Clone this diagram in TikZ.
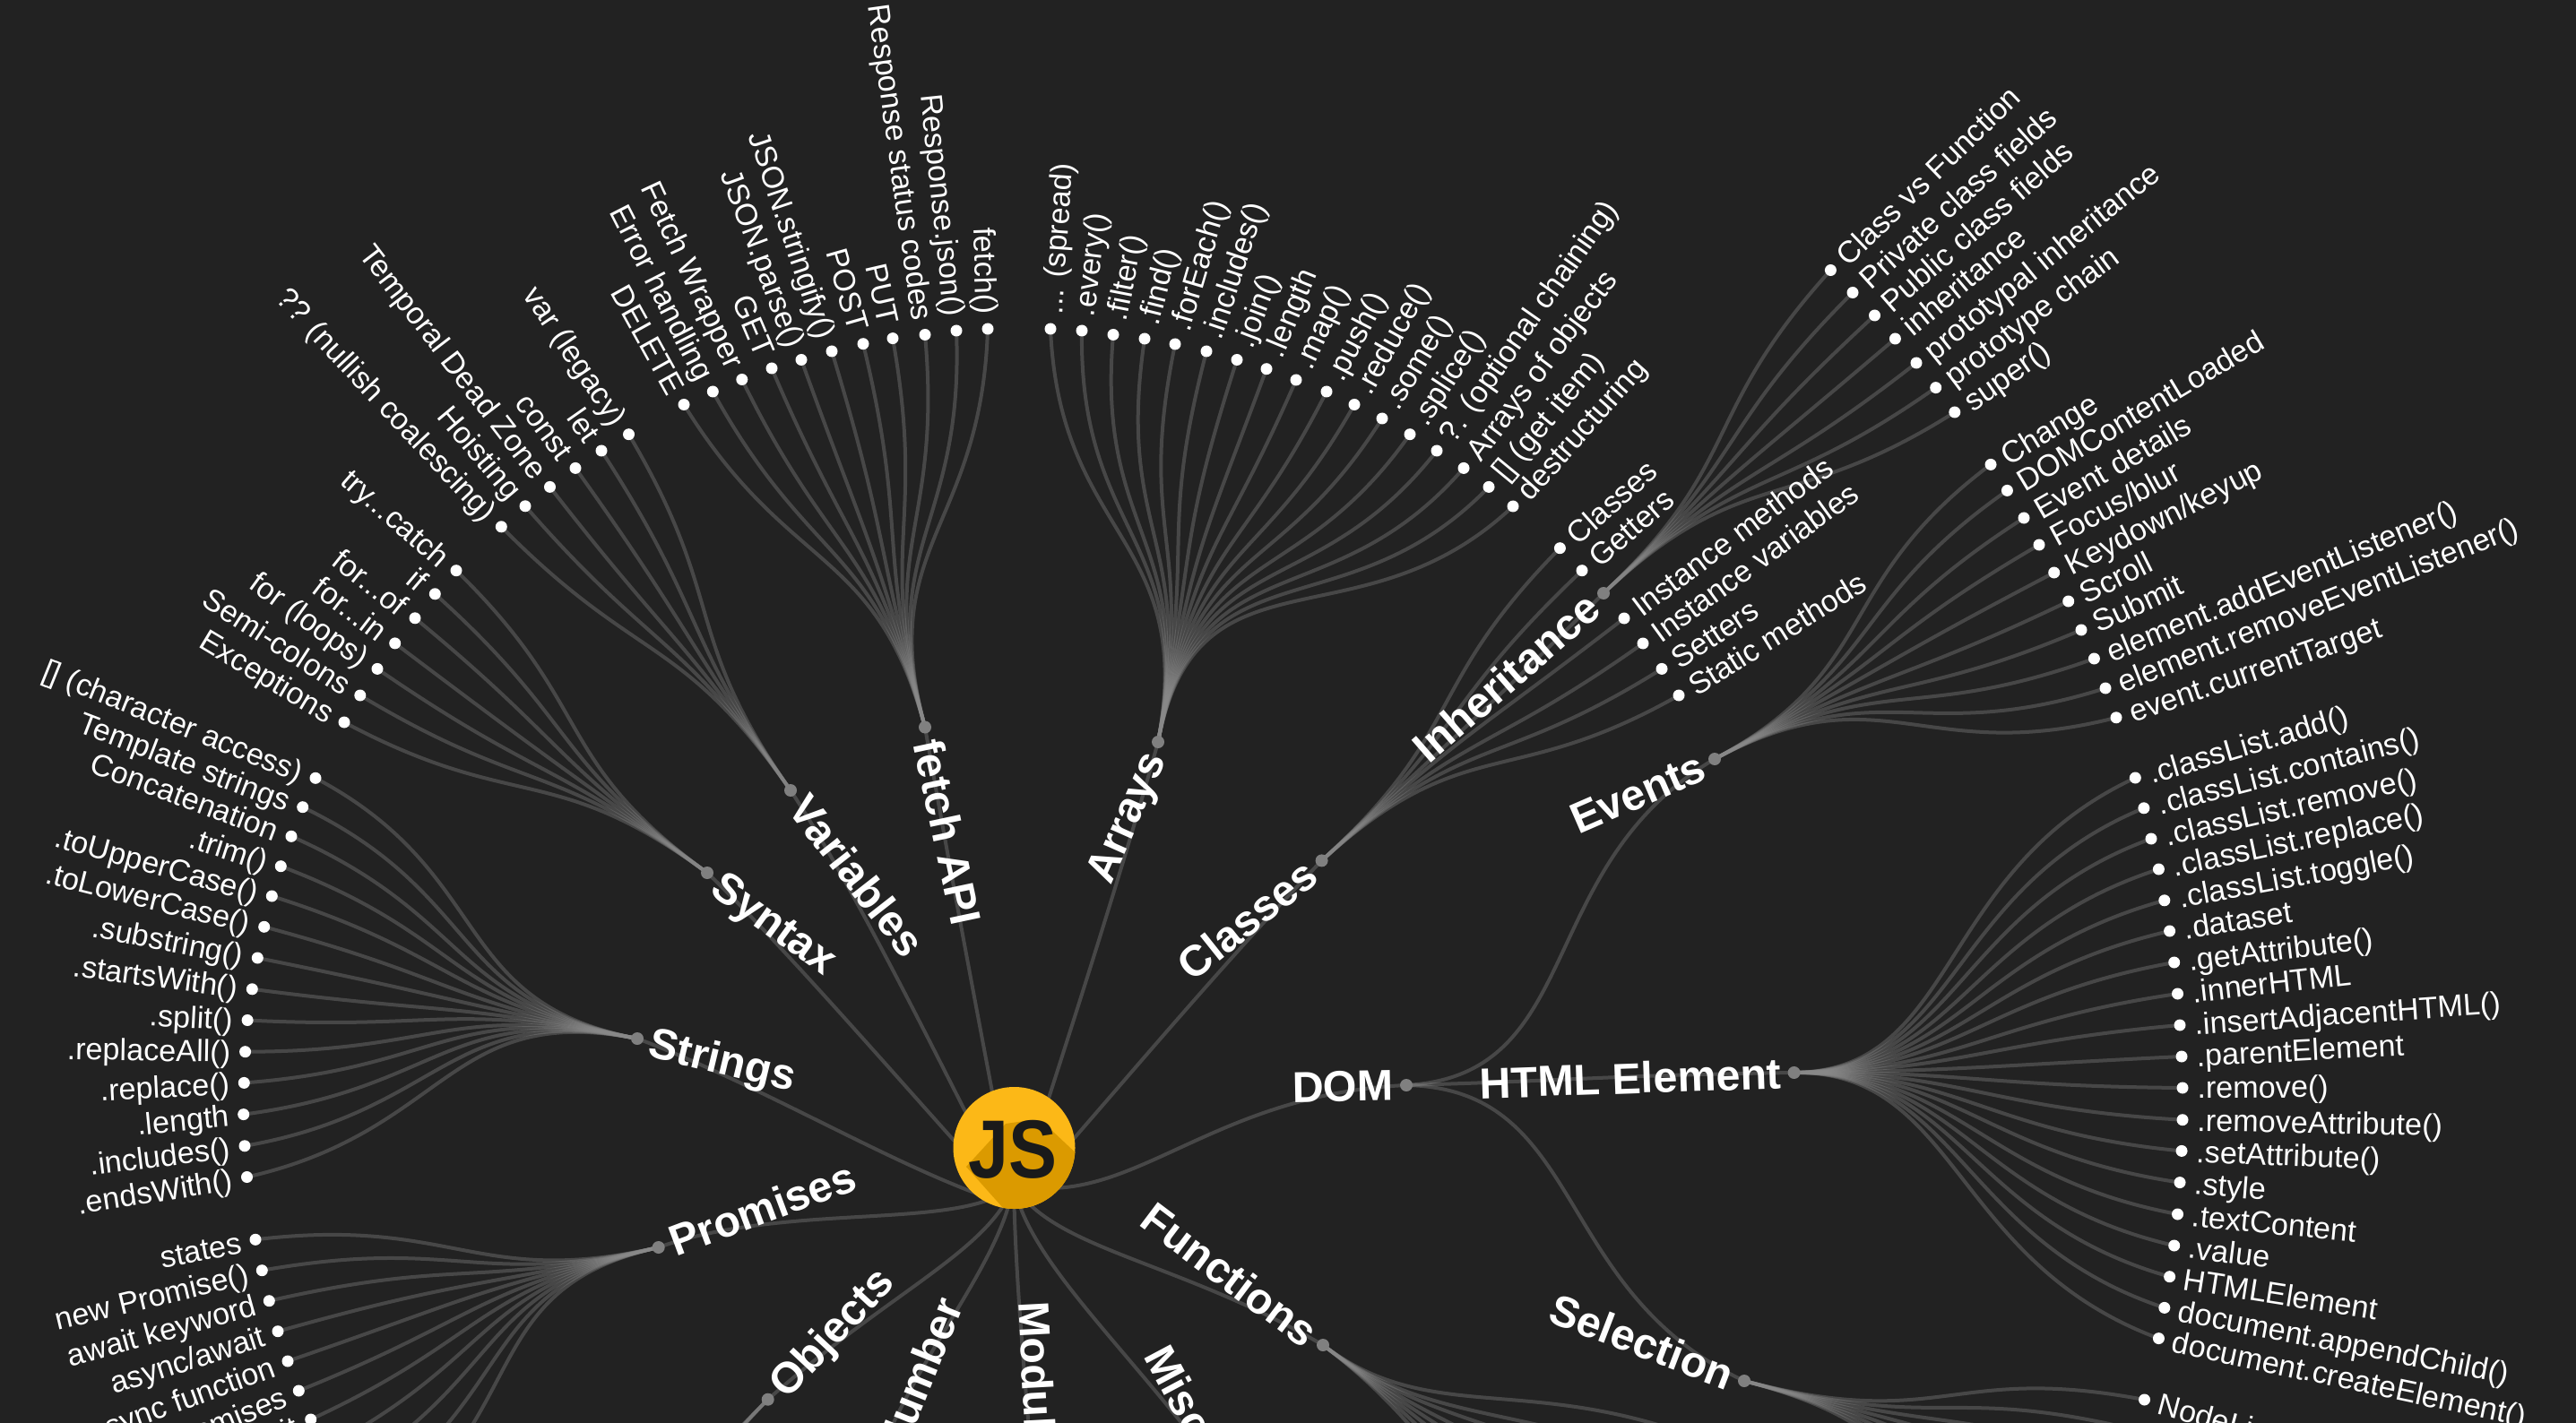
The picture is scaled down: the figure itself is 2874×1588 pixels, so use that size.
\documentclass[tikz,border=0pt]{standalone}
\usepackage{fontspec}
\setmainfont{Liberation Sans}
\usetikzlibrary{calc}
\pgfdeclarelayer{links}
\pgfsetlayers{links,main}
\definecolor{bgc}{HTML}{222222}
\definecolor{jsy}{HTML}{FCB817}
\definecolor{jsd}{HTML}{DB9A00}
\definecolor{jsk}{HTML}{1A1A1A}
\definecolor{hubc}{HTML}{808080}
\definecolor{linkc}{HTML}{8A8A8A}
\tikzset{
 link/.style={draw=linkc,draw opacity=.36,line width=2pt},
 leafdot/.style={circle,fill=white,minimum size=6.5pt,inner sep=0pt},
 hubdot/.style={circle,fill=hubc,minimum size=7pt,inner sep=0pt},
 leaftext/.style={text=white,font=\fontsize{17.1}{18}\selectfont,inner ysep=0pt,inner xsep=8pt,text height=12pt,text depth=0pt},
 boldtext/.style={text=white,font=\fontsize{24.2}{25}\selectfont\bfseries,inner ysep=0pt,inner xsep=7pt,text height=17pt,text depth=0pt},
}
\newcount\leafno
\newcommand{\mmgrp}[2]{\def\curhub{#1}\def\curc{#2}}
\newcommand{\mmfan}[2]{%
 \begin{pgfonlayer}{links}
 \draw[link] let \p1=(\curhub.center),\p2=(#1.center),\n1={veclen(\x1-\x2,\y1-\y2)} in
  (\curhub.center) .. controls (\curc) and ({\x2+0.325*\n1*cos(#2)+0.175*(\x1-\x2)},{\y2+0.325*\n1*sin(#2)+0.175*(\y1-\y2)}) .. (#1.center);
 \end{pgfonlayer}}
\newcommand{\mmL}[4]{%
 \global\advance\leafno by 1
 \node[leafdot] (L\the\leafno) at (#1,#2) {};
 \node[leaftext,anchor=east,rotate=#3] (T\the\leafno) at (L\the\leafno.center) {#4};
 \mmfan{L\the\leafno}{#3}}
\newcommand{\mmR}[4]{%
 \global\advance\leafno by 1
 \node[leafdot] (L\the\leafno) at (#1,#2) {};
 \node[leaftext,anchor=west,rotate=#3] (T\the\leafno) at (L\the\leafno.center) {#4};
 \mmfan{L\the\leafno}{#3+180}}
\newcommand{\mmO}[3]{%
 \global\advance\leafno by 1
 \coordinate (L\the\leafno) at (#1,#2);
 \mmfan{L\the\leafno}{#3}}
\newcommand{\mmroot}[4]{%
 \begin{pgfonlayer}{links}
 \draw[link] (#1) .. controls (#2) and (#3) .. (#4);
 \end{pgfonlayer}}
\begin{document}
\begin{tikzpicture}[x=0.5pt,y=-0.5pt]
\useasboundingbox (0,0) rectangle (2874,1588);
\begin{pgfonlayer}{links}
\fill[bgc] (0,0) rectangle (2874,1588);
\end{pgfonlayer}
% root
\coordinate (O) at (1131,1346);
\coordinate (Ob) at (1131,1322);
\coordinate (Od) at (1170,1326);
% logo
\node[circle,fill=jsy,minimum size=68pt,inner sep=0pt] (js) at (1131.5,1281) {};
\begin{scope}
\clip (1131.5,1281) circle (34pt);
\fill[jsd] (1078,1302) -- (1128,1358) -- (1225,1358) -- (1225,1310) -- (1174,1262) -- (1150,1250) -- (1122,1254) -- cycle;
\end{scope}
\node[text=jsk,inner sep=0pt,font=\fontsize{46}{46}\selectfont\bfseries] (jstext) at (1130,1283) {\scalebox{.88}[1]{JS}};
% hubs
\node[hubdot] (hVar) at (882,882) {};
\node[hubdot] (hSyn) at (789,974) {};
\node[hubdot] (hStr) at (711,1159) {};
\node[hubdot] (hPro) at (734.7,1392) {};
\node[hubdot] (hObj) at (856.7,1561.7) {};
\node[hubdot] (hFet) at (1032,811.5) {};
\node[hubdot] (hArr) at (1292,828) {};
\node[hubdot] (hCla) at (1474.6,960.4) {};
\node[hubdot] (hInh) at (1789,662) {};
\node[hubdot] (hEve) at (1913,847) {};
\node[hubdot] (hDom) at (1569,1211) {};
\node[hubdot] (hHtm) at (2001.6,1197) {};
\node[hubdot] (hSel) at (1946,1541) {};
\node[hubdot] (hFun) at (1476,1501) {};
\coordinate (hNum) at (950,1720);
\coordinate (hMod) at (1160,1750);
\coordinate (hMis) at (1400,1700);
% bold labels
\node[boldtext,anchor=west,rotate=-52] (bVar) at (hVar.center) {Variables};
\node[boldtext,anchor=west,rotate=-36] (bSyn) at (hSyn.center) {Syntax};
\node[boldtext,anchor=west,rotate=-13.5] (bStr) at (hStr.center) {Strings};
\node[boldtext,anchor=west,rotate=20.5] (bPro) at (hPro.center) {Promises};
\node[boldtext,anchor=west,rotate=47] (bObj) at (hObj.center) {Objects};
\node[boldtext,anchor=west,rotate=-78] (bFet) at (hFet.center) {fetch API};
\node[boldtext,anchor=east,rotate=66] (bArr) at (hArr.center) {Arrays};
\node[boldtext,anchor=east,rotate=38.5] (bCla) at (hCla.center) {Classes};
\node[boldtext,anchor=east,rotate=41] (bInh) at (hInh.center) {Inheritance};
\node[boldtext,anchor=east,rotate=23.5] (bEve) at (hEve.center) {Events};
\node[boldtext,anchor=east,rotate=1] (bDom) at (hDom.center) {DOM};
\node[boldtext,anchor=east,rotate=2] (bHtm) at (hHtm.center) {HTML Element};
\node[boldtext,anchor=east,rotate=-21] (bSel) at (hSel.center) {Selection};
\node[boldtext,anchor=east,rotate=-37] (bFun) at (hFun.center) {Functions};
\coordinate (aNum) at (1060,1450);
\coordinate (aMod) at (1153,1452);
\coordinate (aMis) at (1290,1505);
\node[boldtext,anchor=east,rotate=68,inner xsep=0pt] (bNum) at (aNum) {Number};
\node[boldtext,anchor=west,rotate=-87,inner xsep=0pt] (bMod) at (aMod) {Modules};
\node[boldtext,anchor=west,rotate=-62,inner xsep=0pt] (bMis) at (aMis) {Miscellaneous};
% root links
\mmroot{O}{1070,1230}{960,1000}{hVar.center}
\mmroot{O}{1050,1260}{880,1060}{hSyn.center}
\mmroot{O}{1010,1310}{860,1215}{hStr.center}
\mmroot{Ob}{1080,1375}{880,1340}{hPro.center}
\mmroot{Ob}{1105,1395}{995,1440}{hObj.center}
\mmroot{Ob}{1112,1430}{990,1540}{hNum}
\mmroot{Ob}{1133,1450}{1150,1600}{hMod}
\mmroot{Ob}{1150,1420}{1290,1530}{hMis}
\mmroot{Ob}{1175,1395}{1313,1406}{hFun.center}
\mmroot{Od}{1280,1326}{1370,1220}{hDom.center}
\mmroot{O}{1200,1272}{1345,1095}{hCla.center}
\mmroot{O}{1175,1210}{1250,980}{hArr.center}
\mmroot{O}{1100,1180}{1065,1000}{hFet.center}
\mmroot{hDom.center}{1770,1200}{1709,967}{hEve.center}
\mmroot{hDom.center}{1780,1205}{1790,1200}{hHtm.center}
\mmroot{hDom.center}{1770,1215}{1730,1440}{hSel.center}
\mmroot{hCla.center}{1630,815}{1640,810}{hInh.center}
% Variables
\coordinate (cVar) at (759,706);
\mmgrp{hVar}{cVar}
\mmL{701.5}{484.7}{-56}{var (legacy)}
\mmL{671}{503}{-55}{let}
\mmL{642}{522.4}{-53.5}{const}
\mmL{613.5}{543.4}{-52.5}{Temporal Dead Zone}
\mmL{586}{564.8}{-50}{Hoisting}
\mmL{559.3}{587.8}{-47}{?? (nullish coalescing)}
% Syntax
\coordinate (cSyn) at (615,847);
\mmgrp{hSyn}{cSyn}
\mmL{509}{636.7}{-41}{try...catch}
\mmL{485.3}{662.8}{-40}{if}
\mmL{463}{689.8}{-38.7}{for...of}
\mmL{440.7}{717.9}{-37.5}{for...in}
\mmL{421}{746.4}{-36}{for (loops)}
\mmL{401.8}{776}{-33}{Semi-colons}
\mmL{384}{806}{-31}{Exceptions}
% Strings
\coordinate (cStr) at (500,1118);
\mmgrp{hStr}{cStr}
\mmL{352}{868.3}{-22}{[] (character access)}
\mmL{337.7}{900.7}{-21}{Template strings}
\mmL{325}{933.3}{-20.5}{Concatenation}
\mmL{313.3}{966.7}{-18}{.trim()}
\mmL{303.3}{1000}{-15.5}{.toUpperCase()}
\mmL{294.7}{1034.3}{-14}{.toLowerCase()}
\mmL{287.3}{1069}{-11}{.substring()}
\mmL{281.3}{1103.8}{-7.5}{.startsWith()}
\mmL{276.1}{1138.5}{-3}{.split()}
\mmL{273.6}{1173.7}{-1}{.replaceAll()}
\mmL{272.3}{1208.4}{3}{.replace()}
\mmL{271.7}{1243.6}{5.5}{.length}
\mmL{273}{1278.8}{7}{.includes()}
\mmL{275.5}{1313.5}{9}{.endsWith()}
% Promises
\coordinate (cPro) at (530,1438);
\mmgrp{hPro}{cPro}
\mmL{285}{1383.3}{11}{states}
\mmL{292.3}{1417.7}{13.5}{new Promise()}
\mmL{300.3}{1451.7}{15.5}{await keyword}
\mmL{310}{1485.7}{17.5}{async/await}
\mmL{321}{1519}{20}{async function}
\mmL{333.3}{1552}{22}{Chaining promises}
\mmL{346.7}{1584}{24}{Top-level await}
\mmO{362}{1616}{26}
\mmO{379}{1648}{28}
\mmO{398}{1679}{30}
\mmO{418}{1709}{32}
% Objects
\coordinate (cObj) at (710,1710);
\mmgrp{hObj}{cObj}
\mmO{560}{1780}{25}
\mmO{590}{1830}{30}
\mmO{630}{1870}{35}
\mmO{670}{1900}{40}
% fetch
\coordinate (cFet) at (977,608);
\mmgrp{hFet}{cFet}
\mmL{763}{451.5}{-61}{DELETE}
\mmL{795.3}{437}{-63}{Error handling}
\mmL{827.8}{423.5}{-65}{Fetch Wrapper}
\mmL{861}{411}{-67}{GET}
\mmL{894}{401.5}{-69.5}{JSON.parse()}
\mmL{928}{392}{-71.5}{JSON.stringify()}
\mmL{963}{383.7}{-74}{POST}
\mmL{996}{377.6}{-77}{PUT}
\mmL{1032}{373.5}{-82}{Response status codes}
\mmL{1067}{369}{-84}{Response.json()}
\mmL{1102}{367}{-88}{fetch()}
% Arrays
\coordinate (cArr) at (1335,600);
\mmgrp{hArr}{cArr}
\mmR{1172}{367}{86}{... (spread)}
\mmR{1207}{369}{83}{.every()}
\mmR{1242}{373.5}{79}{.filter()}
\mmR{1277}{378}{76}{.find()}
\mmR{1311}{384}{73.5}{.forEach()}
\mmR{1346}{392}{71.5}{.includes()}
\mmR{1380}{401.5}{69}{.join()}
\mmR{1413}{411.7}{67.5}{.length}
\mmR{1446}{424}{65}{.map()}
\mmR{1480}{437}{62.5}{.push()}
\mmR{1511}{451.5}{61}{.reduce()}
\mmR{1542}{467}{59}{.some()}
\mmR{1573}{484.7}{57}{.splice()}
\mmR{1603}{503}{55}{?. (optional chaining)}
\mmR{1633}{522.4}{53}{Arrays of objects}
\mmR{1661}{543.4}{50.5}{[] (get item)}
\mmR{1688}{565}{48.5}{destructuring}
% Classes
\coordinate (cCla) at (1636,814);
\mmgrp{hCla}{cCla}
\mmR{1740.4}{611.7}{41.5}{Classes}
\mmR{1765}{636.7}{41}{Getters}
\mmR{1812}{690}{37}{Instance methods}
\mmR{1833}{718}{36}{Instance variables}
\mmR{1854}{746.4}{33.5}{Setters}
\mmR{1873}{776}{32}{Static methods}
% Inheritance
\coordinate (cInh) at (1946,515);
\mmgrp{hInh}{cInh}
\mmR{2042.4}{301.5}{44}{Class vs Function}
\mmR{2067}{326.5}{42}{Private class fields}
\mmR{2091.5}{352}{41}{Public class fields}
\mmR{2114.4}{378}{40}{inheritance}
\mmR{2138}{405}{39}{prototypal inheritance}
\mmR{2159.7}{432.6}{37}{prototype chain}
\mmR{2180.8}{460}{35}{super()}
% Events
\coordinate (cEve) at (2100,747);
\mmgrp{hEve}{cEve}
\mmR{2221}{518.4}{31.5}{Change}
\mmR{2239.4}{547.4}{31}{DOMContentLoaded}
\mmR{2258}{578}{30}{Event details}
\mmR{2275}{608}{28.5}{Focus/blur}
\mmR{2291.7}{639}{27}{Keydown/keyup}
\mmR{2307.7}{671}{26.5}{Scroll}
\mmR{2322}{703}{25}{Submit}
\mmR{2336.4}{735}{22.5}{element.addEventListener()}
\mmR{2349}{768}{21.5}{element.removeEventListener()}
\mmR{2361}{800.8}{19}{event.currentTarget}
% HTML Element
\coordinate (cHtm) at (2185,1195);
\mmgrp{hHtm}{cHtm}
\mmR{2382.3}{868}{16.5}{.classList.add()}
\mmR{2391.9}{901.8}{14.5}{.classList.contains()}
\mmR{2400}{936}{13}{.classList.remove()}
\mmR{2408.4}{970}{12}{.classList.replace()}
\mmR{2414.8}{1004.8}{10.5}{.classList.toggle()}
\mmR{2420.6}{1039}{9}{.dataset}
\mmR{2425.7}{1074}{7}{.getAttribute()}
\mmR{2429.5}{1109}{6.5}{.innerHTML}
\mmR{2432}{1144}{4}{.insertAdjacentHTML()}
\mmR{2434}{1179}{3}{.parentElement}
\mmR{2435}{1214}{.5}{.remove()}
\mmR{2435}{1249.7}{-1.2}{.removeAttribute()}
\mmR{2434}{1284.4}{-2.2}{.setAttribute()}
\mmR{2432}{1319.6}{-4.5}{.style}
\mmR{2429.5}{1355}{-5.5}{.textContent}
\mmR{2425.7}{1390}{-7}{.value}
\mmR{2420.6}{1424.7}{-9}{HTMLElement}
\mmR{2414.8}{1459.4}{-10.8}{document.appendChild()}
\mmR{2408.4}{1493.6}{-12}{document.createElement()}
% Selection
\coordinate (cSel) at (2169,1599);
\mmgrp{hSel}{cSel}
\mmR{2392.5}{1562}{-15}{NodeList}
\mmO{2384}{1596}{163}
\mmO{2374}{1630}{161.5}
\mmO{2363}{1664}{160}
\mmO{2350}{1697}{159}
\mmO{2336}{1730}{157}
\mmO{2320}{1762}{155}
\mmO{2303}{1793}{153}
% Functions
\coordinate (cFun) at (1600,1595);
\mmgrp{hFun}{cFun}
\mmO{1920}{1615}{153}
\mmO{1905}{1650}{155}
\mmO{1888}{1685}{150}
\mmO{1870}{1720}{148}
\mmO{1850}{1750}{145}
\mmO{1830}{1780}{142}
\mmO{1805}{1810}{138}
\mmO{1780}{1838}{134}
\end{tikzpicture}
\end{document}
